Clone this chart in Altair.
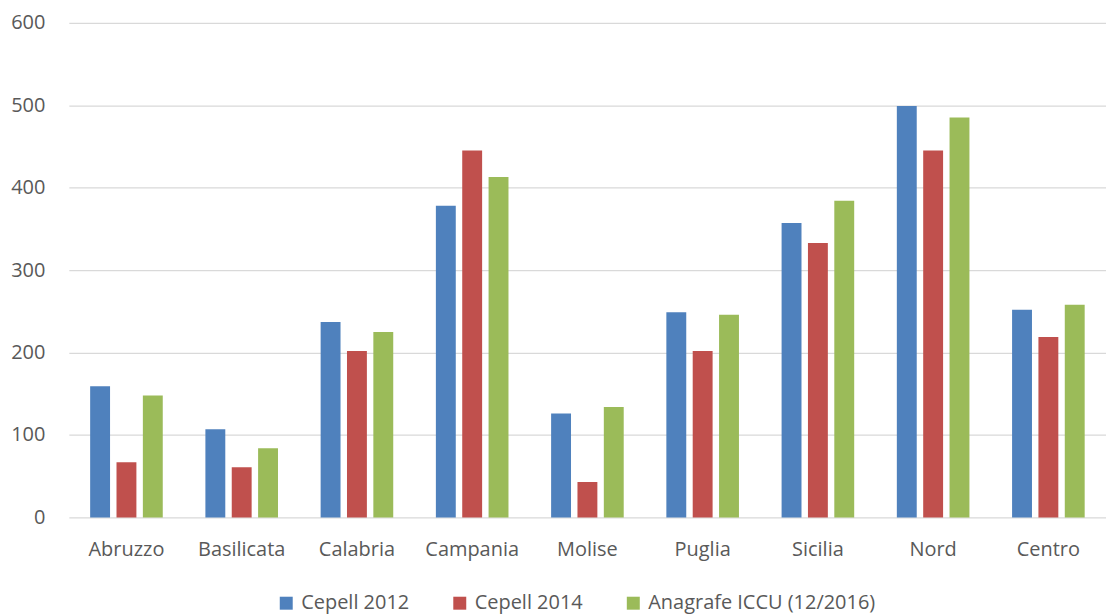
import altair as alt
import pandas as pd

regions = ["Abruzzo", "Basilicata", "Calabria", "Campania", "Molise", "Puglia", "Sicilia", "Nord", "Centro"]
series = ["Cepell 2012", "Cepell 2014", "Anagrafe ICCU (12/2016)"]
cepell_2012 = [159, 107, 237, 378, 126, 249, 357, 499, 252]
cepell_2014 = [67, 61, 202, 445, 43, 202, 333, 445, 219]
anagrafe_iccu = [148, 84, 225, 413, 134, 246, 384, 485, 258]
colors = ["#4F81BD", "#C0504D", "#9BBB59"]

rows = []
for s, vals in zip(series, [cepell_2012, cepell_2014, anagrafe_iccu]):
    for r, v in zip(regions, vals):
        rows.append({"regione": r, "serie": s, "valore": v})
df = pd.DataFrame(rows)

FONT = "Open Sans"
TXT = "#595959"
FS = 20

chart = alt.Chart(df).mark_bar().encode(
    x=alt.X("regione:N", sort=regions, title=None,
            scale=alt.Scale(paddingInner=0.37, paddingOuter=0.185),
            axis=alt.Axis(labelAngle=0, labelFontSize=FS, labelColor=TXT, labelFont=FONT,
                          labelPadding=22, ticks=False, domain=False, grid=False)),
    xOffset=alt.XOffset("serie:N", sort=series,
                        scale=alt.Scale(paddingInner=0.245, paddingOuter=0)),
    y=alt.Y("valore:Q", title=None,
            scale=alt.Scale(domain=[0, 600], nice=False),
            axis=alt.Axis(values=[0, 100, 200, 300, 400, 500, 600], labelFontSize=FS,
                          labelColor=TXT, labelFont=FONT, labelPadding=24, ticks=False,
                          domain=False, gridColor="#D9D9D9", gridWidth=1.2)),
    color=alt.Color("serie:N", sort=series,
                    scale=alt.Scale(domain=series, range=colors),
                    legend=alt.Legend(title=None, orient="none", direction="horizontal",
                                      legendX=208, legendY=572,
                                      symbolType="square", symbolSize=169, symbolStrokeWidth=0,
                                      labelFontSize=FS, labelColor=TXT, labelFont=FONT,
                                      labelOffset=5, columnPadding=40, labelLimit=400)),
).properties(
    width=1040,
    height=496,
    autosize=alt.AutoSizeParams(type="none"),
    padding={"left": 61, "top": 14, "right": 0, "bottom": 96},
).configure(background="white").configure_view(stroke=None)

chart.save("out.html", embed_options={"renderer": "svg", "actions": False})
